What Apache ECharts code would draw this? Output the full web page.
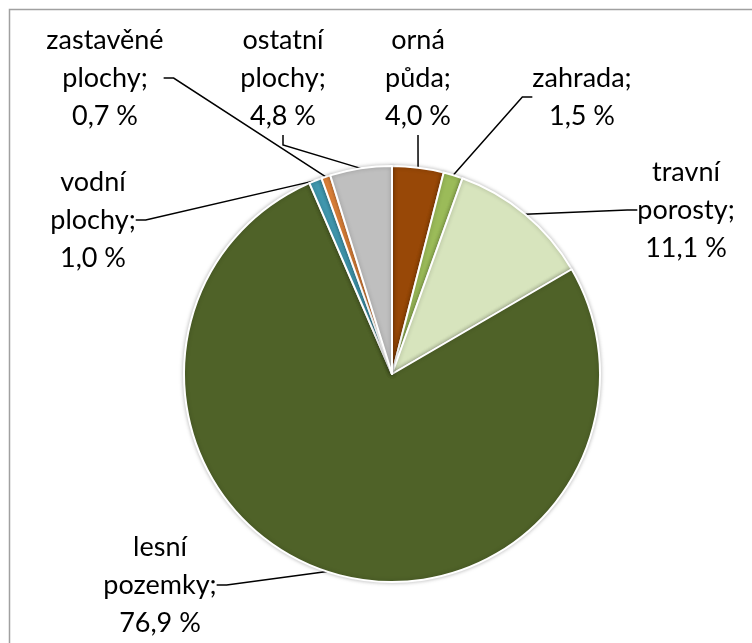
<!DOCTYPE html>
<html>
<head>
<meta charset="utf-8">
<script src="https://cdn.jsdelivr.net/npm/echarts@6/dist/echarts.min.js"></script>
<style>
html,body{margin:0;padding:0;background:#fff;}
#chart{width:752px;height:643px;}
</style>
</head>
<body>
<div id="chart"></div>
<script>
var categories = ['orná\npůda', 'zahrada', 'travní\nporosty', 'lesní\npozemky', 'vodní\nplochy', 'zastavěné\nplochy', 'ostatní\nplochy'];
var values = [4.0, 1.5, 11.1, 76.9, 1.0, 0.7, 4.8];
var colors = ['#984807', '#9BBB59', '#D7E4BD', '#4F6228', '#4198AF', '#E2843A', '#BFBFBF'];
// label block centers (layout only)
var labelPos = [[418, 78], [582, 97], [686, 210], [160, 585], [93, 220], [105, 78], [283, 78]];

var data = categories.map(function (c, i) {
  return { name: c, value: values[i], itemStyle: { color: colors[i] } };
});

var chart = echarts.init(document.getElementById('chart'));
chart.setOption({
  animation: false,
  graphic: [{
    type: 'rect',
    shape: { x: 9.5, y: 9.5, width: 900, height: 800 },
    style: { fill: 'none', stroke: '#a0a0a0', lineWidth: 1.5 },
    silent: true
  }],
  series: [{
    type: 'pie',
    center: [392, 374],
    radius: 208,
    startAngle: 90,
    clockwise: true,
    data: data,
    itemStyle: {
      borderColor: '#fff',
      borderWidth: 2,
      shadowBlur: 4,
      shadowColor: 'rgba(0,0,0,0.25)'
    },
    label: {
      show: true,
      fontFamily: 'Lato',
      fontSize: 27,
      lineHeight: 38,
      color: '#000',
      align: 'center',
      formatter: function (p) {
        return p.name + ';\n' + p.value.toFixed(1).replace('.', ',') + ' %';
      }
    },
    labelLine: {
      show: true,
      length: 15,
      length2: 10,
      lineStyle: { color: '#000', width: 1.5 }
    },
    labelLayout: function (params) {
      var p = labelPos[params.dataIndex];
      return { x: p[0], y: p[1], align: 'center', verticalAlign: 'middle' };
    }
  }]
});
</script>
</body>
</html>
